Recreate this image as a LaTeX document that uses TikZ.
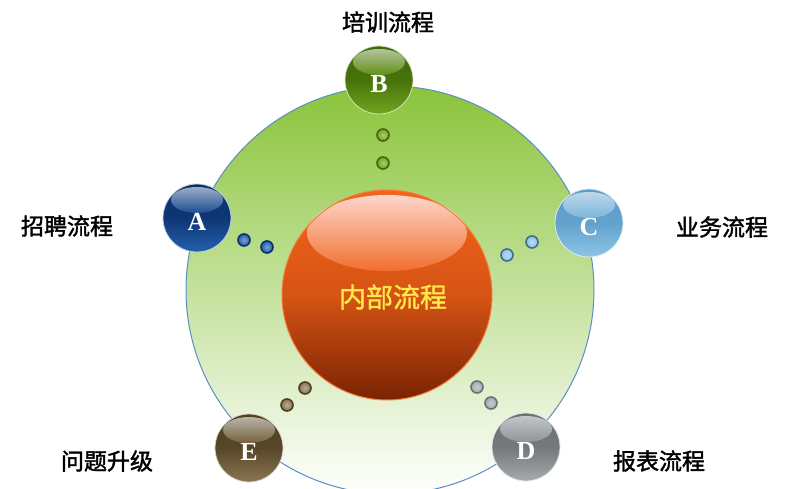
\documentclass[tikz,border=0pt]{standalone}
\usepackage{fontspec}
\newfontfamily\cjk[FakeBold=1.6]{Noto Sans CJK SC}
\newfontfamily\cjkc[FakeBold=1.2]{Noto Sans CJK SC}
\newfontfamily\letterfont{Liberation Serif}
\usetikzlibrary{shadings}
\definecolor{ringgreen}{HTML}{8AC43A}
\definecolor{ringline}{HTML}{5B8EC6}
\definecolor{corelight}{HTML}{F4641A}
\definecolor{coredark}{HTML}{7A2303}
\definecolor{ctext}{HTML}{FFE94A}
\definecolor{aMain}{HTML}{2460AC}\definecolor{aDark}{HTML}{0B2F6A}
\definecolor{bMain}{HTML}{74A51E}\definecolor{bDark}{HTML}{3E6A08}
\definecolor{cMain}{HTML}{8CC4E6}\definecolor{cDark}{HTML}{5C9CC8}
\definecolor{dMain}{HTML}{A5AAAD}\definecolor{dDark}{HTML}{6A7074}
\definecolor{eMain}{HTML}{8A7550}\definecolor{eDark}{HTML}{4E3F22}
\tikzset{
  x=1pt, y=-1pt,
  label/.style={font=\cjk\fontsize{23}{23}\selectfont, text=black, inner sep=0pt},
  letter/.style={font=\letterfont\bfseries\fontsize{26}{26}\selectfont, text=white, inner sep=0pt},
}
% ball macro: #1 name, #2 x, #3 y, #4 main color, #5 dark color, #6 letter
\newcommand{\myball}[6]{%
  \shade[top color=#5, bottom color=#4, middle color=#5!85!#4] (#2,#3) circle[radius=34];
  \shade[top color=white, bottom color=#4, opacity=0.6] (#2,#3-18) ellipse[x radius=26, y radius=13];
  \draw[white!70!#4, line width=0.8pt] (#2,#3) circle[radius=34];
  \node[letter] (#1) at (#2,#3+4) {#6};
}
\newcommand{\mydot}[4]{%
  \shade[inner color=#3!60!white, outer color=#3] (#1,#2) circle[radius=6];
  \draw[#4, line width=1.6pt] (#1,#2) circle[radius=6];
}
\begin{document}
\begin{tikzpicture}
\useasboundingbox (0,0) rectangle (792,489);
\fill[white] (0,0) rectangle (792,489);
\begin{scope}
\clip (0,0) rectangle (792,489);
% big ring
\shade[top color=ringgreen, middle color=ringgreen!50!white, bottom color=white, shading angle=0] (390,290) circle[radius=204];
\draw[ringline, line width=1pt] (390,290) circle[radius=204];
\end{scope}
% core sphere
\node[circle, minimum size=210pt, inner sep=0pt] (core) at (387,295) {};
\shade[top color=corelight, bottom color=coredark, middle color=corelight!75!coredark] (387,295) circle[radius=105];
\shade[top color=white!92!red, bottom color=corelight!90!white, opacity=0.85] (387,233) ellipse[x radius=80, y radius=38];
\draw[corelight!85!white, line width=1pt] (387,295) circle[radius=105];
\node[font=\cjkc\fontsize{27}{27}\selectfont, text=ctext] (coretext) at (393,297) {内部流程};
% balls
\myball{A}{197}{218}{aMain}{aDark}{A}
\myball{B}{379}{80}{bMain}{bDark}{B}
\myball{C}{589}{223}{cMain}{cDark}{C}
\myball{D}{526}{447}{dMain}{dDark}{D}
\myball{E}{249}{448}{eMain}{eDark}{E}
% dots
\mydot{383}{135}{bMain}{bDark}
\mydot{383}{163}{bMain}{bDark}
\mydot{244}{240}{aMain}{aDark}
\mydot{267}{247}{aMain}{aDark}
\mydot{507}{255}{cMain}{cDark!70!black}
\mydot{532}{242}{cMain}{cDark!70!black}
\mydot{477}{387}{dMain}{dDark}
\mydot{491}{403}{dMain}{dDark}
\mydot{287}{405}{eMain}{eDark}
\mydot{305}{388}{eMain}{eDark}
% labels
\node[label] (lB) at (388,22) {培训流程};
\node[label] (lA) at (67,226) {招聘流程};
\node[label] (lC) at (722,227) {业务流程};
\node[label] (lE) at (107,461) {问题升级};
\node[label] (lD) at (659,461) {报表流程};
\end{tikzpicture}
\end{document}
